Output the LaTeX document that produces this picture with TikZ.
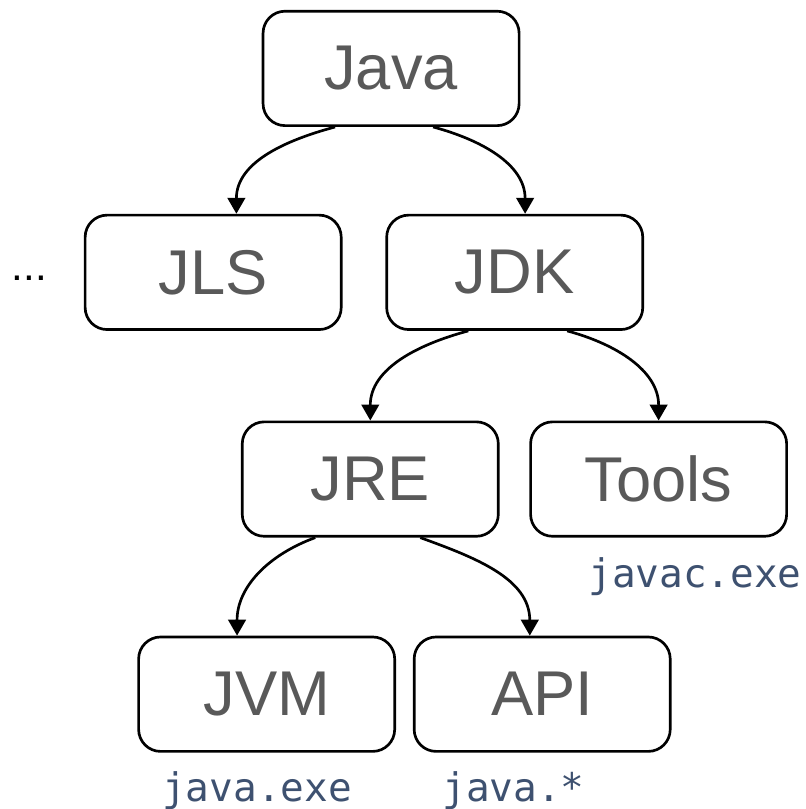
\documentclass[tikz,border=0pt]{standalone}
\usepackage{fontspec}
\setmainfont{Liberation Sans}
\newfontfamily\codefont{DejaVu Sans Mono}
\usepackage{xcolor}
\usepackage{tikz}
\usetikzlibrary{shapes.geometric, arrows}
\usetikzlibrary{positioning, arrows.meta}
\usetikzlibrary{calc}
\definecolor{labelgray}{HTML}{595959}
\definecolor{codeblue}{HTML}{3E5170}

\begin{document}
\begin{tikzpicture}[
        box/.style={rectangle, rounded corners=0.55cm, minimum width=6.4cm, minimum height=2.86cm, text centered, draw=black, line width=1.9pt, text=labelgray, font=\fontsize{45}{54}\selectfont},
        codelabel/.style={inner sep=0pt, text=codeblue, font=\codefont\fontsize{28}{34}\selectfont},
        arrow/.style={line width=1.9pt, -{Triangle[length=0.4cm, width=0.44cm]}}
    ]

        \useasboundingbox (-9.775,-18.51) rectangle (10.35,1.71);

        % ===== 节点 =====
        \node (java) [box] at (0,0) {Java};
        \node (jdk) [box, below=2.17cm of java, xshift=3.09cm] {JDK};
        \node (jls) [box, left=1.07cm of jdk] {JLS};
        \node (dots) [inner sep=0pt, font=\fontsize{30}{36}\selectfont, left=0.92cm of jls, yshift=-0.14cm] {...};
        \node (jre) [box, below=2.24cm of jdk, xshift=-3.61cm] {JRE};
        \node (tools) [box, right=0.74cm of jre] {Tools};
        \node (jvm) [box, below=2.45cm of jre, xshift=-2.59cm] {JVM};
        \node (api) [box, right=0.42cm of jvm] {API};

        % 命令与包名
        \node (javac) [codelabel, below=0.5cm of tools, xshift=0.91cm] {javac.exe};
        \node (javaexe) [codelabel, below=0.46cm of jvm, xshift=-0.24cm] {java.exe};
        \node (javapkg) [codelabel, base right=2.25cm of javaexe] {java.*};

        % ===== 箭头连接 =====
        \draw [arrow] ([xshift=-1.4cm]java.south) to[out=195, in=90] ([xshift=0.58cm]jls.north);
        \draw [arrow] ([xshift=1.05cm]java.south) to[out=-15, in=90] ([xshift=0.26cm]jdk.north);
        \draw [arrow] ([xshift=-1.16cm]jdk.south) to[out=195, in=90] (jre.north);
        \draw [arrow] ([xshift=1.31cm]jdk.south) to[out=-15, in=90] (tools.north);
        \draw [arrow] ([xshift=-1.375cm]jre.south) to[out=200, in=90] ([xshift=-0.74cm]jvm.north);
        \draw [arrow] ([xshift=1.25cm]jre.south) to[out=-20, in=90] ([xshift=-0.31cm]api.north);

    \end{tikzpicture}
\end{document}
